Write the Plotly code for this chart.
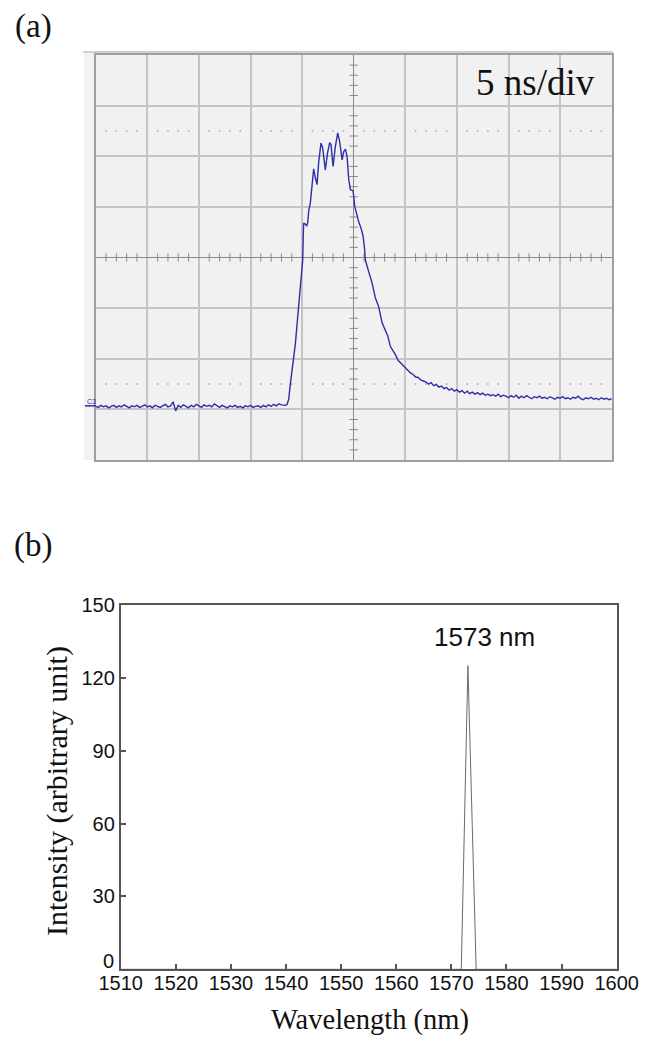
import numpy as np
import plotly.graph_objects as go

W, H = 649, 1043

# ---------------- (a) oscilloscope capture, 5 ns/div, 8 vertical divisions ----------------
# lead-in baseline, sampled every 0.25 ns from -25 ns (values in divisions)
lead_t0, lead_dt = -25.0, 0.25
lead_v = [
    -2.94, -2.96, -2.92, -2.95, -2.93, -2.97, -2.94, -2.92, -2.96, -2.93,
    -2.95, -2.91, -2.94, -2.97, -2.93, -2.95, -2.92, -2.96, -2.94, -2.91,
    -2.95, -2.93, -2.97, -2.92, -2.94, -2.96, -2.93, -2.90, -2.95, -2.93,
    -2.85, -3.03, -2.92, -2.96, -2.91, -2.94, -2.97, -2.92, -2.95, -2.90,
    -2.93, -2.96, -2.91, -2.94, -2.92, -2.95, -2.89, -2.93, -2.96, -2.92,
    -2.94, -2.97, -2.93, -2.95, -2.92, -2.96, -2.94, -2.97, -2.93, -2.95,
    -2.92, -2.96, -2.94, -2.93, -2.96, -2.92, -2.95, -2.91, -2.94, -2.90,
    -2.93, -2.89, -2.91, -2.92,
]

# pulse: rise, modulated top and fast part of the decay (ns, div)
pulse_t = [
    -6.60, -6.45, -6.30, -6.13, -5.97, -5.81, -5.65, -5.48, -5.32, -5.16,
    -5.00, -4.94, -4.88, -4.85, -4.70, -4.55, -4.45, -4.36, -4.20, -4.05,
    -3.88, -3.72, -3.55, -3.40, -3.17, -3.01, -2.75, -2.53, -2.33, -2.20,
    -2.00, -1.78, -1.55, -1.36, -1.12, -0.97, -0.80, -0.64, -0.48, -0.32,
    -0.06, 0.10, 0.33, 0.48, 0.71, 0.91, 1.03, 1.13, 1.45, 1.78,
    2.10, 2.42, 2.75, 3.07, 3.30, 3.56, 3.80, 4.04, 4.30, 4.53,
    4.85, 5.17,
]
pulse_v = [
    -2.92, -2.90, -2.80, -2.48, -2.25, -2.02, -1.70, -1.30, -0.95, -0.64,
    -0.20, -0.05, 0.50, 0.68, 0.66, 0.62, 0.70, 0.92, 1.08, 1.40,
    1.75, 1.58, 1.44, 1.87, 2.26, 2.17, 1.73, 2.07, 2.27, 2.23,
    1.80, 2.19, 2.46, 2.29, 1.93, 2.09, 2.14, 1.99, 1.54, 1.34,
    1.32, 1.01, 0.81, 0.71, 0.58, 0.42, 0.22, -0.05, -0.28, -0.50,
    -0.80, -0.97, -1.29, -1.43, -1.55, -1.76, -1.83, -1.92, -2.03, -2.08,
    -2.14, -2.22,
]

# slow tail, sampled every 0.25 ns from 5.5 ns
tail_t0, tail_dt = 5.5, 0.25
tail_v = [
    -2.28, -2.31, -2.36, -2.37, -2.42, -2.44, -2.46, -2.50, -2.47, -2.53,
    -2.51, -2.56, -2.54, -2.59, -2.57, -2.62, -2.59, -2.64, -2.61, -2.66,
    -2.63, -2.68, -2.64, -2.69, -2.66, -2.70, -2.67, -2.71, -2.68, -2.72,
    -2.70, -2.73, -2.71, -2.74, -2.70, -2.75, -2.72, -2.74, -2.77, -2.73,
    -2.76, -2.72, -2.78, -2.74, -2.77, -2.73, -2.76, -2.79, -2.75, -2.77,
    -2.74, -2.78, -2.76, -2.79, -2.75, -2.78, -2.80, -2.76, -2.78, -2.75,
    -2.79, -2.77, -2.80, -2.76, -2.78, -2.74, -2.79, -2.81, -2.77, -2.79,
    -2.76, -2.80, -2.78, -2.81, -2.77, -2.80, -2.78, -2.81, -2.79,
]

# ---------------- (b) optical spectrum ----------------
wavelength = [1510.0, 1571.8, 1573.0, 1574.5, 1600.0]
intensity = [0.0, 0.0, 125.0, 0.0, 0.0]
peak_label = "1573 nm"
x_ticks = list(range(1510, 1601, 10))
y_ticks = list(range(0, 151, 30))

lead_t = lead_t0 + lead_dt * np.arange(len(lead_v))
tail_t = tail_t0 + tail_dt * np.arange(len(tail_v))
scope_t = np.concatenate([lead_t, pulse_t, tail_t])
scope_v = np.concatenate([lead_v, pulse_v, tail_v])


def px(x):
    return x / W


def py(y):
    return 1 - y / H


SANS = "Liberation Sans, Arial, sans-serif"
SERIF = "Liberation Serif, Times New Roman, serif"
GRID = "#c4c4c4"
CENTER = "#8a8a8a"
TRACE = "#2e2ea8"

fig = go.Figure()

# minor division marks on the centre cross
minor_t = [t for t in range(-24, 25) if t % 5 != 0]
minor_v = [round(v * 0.2, 1) for v in range(-19, 20) if v % 5 != 0]
fig.add_trace(go.Scatter(
    x=minor_t, y=[0] * len(minor_t), mode="markers", xaxis="x", yaxis="y",
    marker=dict(symbol="line-ns", size=6, line=dict(width=1, color=CENTER)),
    hoverinfo="skip", showlegend=False))
fig.add_trace(go.Scatter(
    x=[0] * len(minor_v), y=minor_v, mode="markers", xaxis="x", yaxis="y",
    marker=dict(symbol="line-ew", size=6, line=dict(width=1, color=CENTER)),
    hoverinfo="skip", showlegend=False))
# dotted reference levels at +/-2.5 div
for lvl in (2.5, -2.5):
    fig.add_trace(go.Scatter(
        x=minor_t, y=[lvl] * len(minor_t), mode="markers", xaxis="x", yaxis="y",
        marker=dict(symbol="square", size=1.6, color="#a9a9a9"),
        hoverinfo="skip", showlegend=False))

fig.add_trace(go.Scatter(
    x=scope_t, y=scope_v, mode="lines", xaxis="x", yaxis="y",
    line=dict(color=TRACE, width=1.4), hoverinfo="skip", showlegend=False))

fig.add_trace(go.Scatter(
    x=wavelength, y=intensity, mode="lines", xaxis="x2", yaxis="y2",
    line=dict(color="#6a6a6a", width=1), hoverinfo="skip", showlegend=False))

shapes = [
    # scope bezel and screen
    dict(type="rect", xref="paper", yref="paper", x0=px(84), x1=px(612), y0=py(460), y1=py(52),
         fillcolor="#f2f2f2", line=dict(width=0), layer="below"),
    dict(type="line", xref="paper", yref="paper", x0=px(83), x1=px(613), y0=py(52), y1=py(52),
         line=dict(color="#cfcfd4", width=2), layer="below"),
    dict(type="rect", xref="x", yref="y", x0=-25, x1=25, y0=-4, y1=4,
         fillcolor="#f1f1f1", line=dict(width=0), layer="below"),
    # channel ground marker
    dict(type="line", xref="paper", yref="y", x0=px(85), x1=px(96), y0=-2.93, y1=-2.93,
         line=dict(color=TRACE, width=1.5)),
]


def label(text, x, y, size, family, **kw):
    return dict(text=text, x=x, y=y, xref=kw.pop("xref", "paper"), yref=kw.pop("yref", "paper"),
                xanchor=kw.pop("xanchor", "center"), yanchor="middle", showarrow=False,
                font=dict(family=family, size=size, color=kw.pop("color", "#111")), **kw)


annotations = [
    label("(a)", px(33), py(26), 33, SERIF),
    label("(b)", px(33), py(545), 33, SERIF),
    label("5 ns/div", px(535), py(83), 37, SERIF),
    label("C3", px(91), py(401), 7, SANS, color=TRACE),
    label(peak_label, 1576.1, 137, 26, SANS, xref="x2", yref="y2"),
    label("Intensity (arbitrary unit)", px(57), py(791), 30, SERIF, textangle=-90),
    label("Wavelength (nm)", px(370), py(1020), 28.5, SERIF),
    # zero of the intensity scale, lifted clear of the wavelength labels
    label(str(y_ticks[0]), px(115), py(961), 20, SANS, xanchor="right", borderpad=0),
]

axis_common = dict(fixedrange=True, automargin=False)
tick_font = dict(family=SANS, size=20, color="#111")

fig.update_layout(
    template="none",
    width=W, height=H, autosize=False,
    margin=dict(l=0, r=0, t=0, b=0, pad=0, autoexpand=False),
    paper_bgcolor="white", plot_bgcolor="rgba(0,0,0,0)",
    shapes=shapes, annotations=annotations, showlegend=False,
    xaxis=dict(domain=[px(95.7), px(611.7)], range=[-25, 25], dtick=5, tick0=0,
               showgrid=True, gridcolor=GRID, gridwidth=1.5,
               zeroline=True, zerolinecolor=CENTER, zerolinewidth=1.2,
               showline=True, mirror=True, linecolor="#a0a0a0", linewidth=1.5,
               showticklabels=False, ticks="", **axis_common),
    yaxis=dict(domain=[py(460), py(55)], range=[-4, 4], dtick=1, tick0=0,
               showgrid=True, gridcolor=GRID, gridwidth=1.5,
               zeroline=True, zerolinecolor=CENTER, zerolinewidth=1.2,
               showline=True, mirror=True, linecolor="#a0a0a0", linewidth=1.5,
               showticklabels=False, ticks="", **axis_common),
    xaxis2=dict(domain=[px(120.7), px(616.7)], range=[1510, 1600], anchor="y2",
                tickvals=x_ticks, ticks="inside", ticklen=5, tickwidth=1.5, tickcolor="#555",
                showline=True, mirror=True, linecolor="#555", linewidth=1.8,
                showgrid=False, zeroline=False, ticklabelstandoff=-5,
                tickfont=tick_font, **axis_common),
    yaxis2=dict(domain=[py(969.3), py(605)], range=[0, 150], anchor="x2",
                tickvals=y_ticks, ticktext=["" if v == 0 else str(v) for v in y_ticks],
                ticks="inside", ticklen=5, tickwidth=1.5, tickcolor="#555",
                showline=True, mirror=True, linecolor="#555", linewidth=1.8,
                showgrid=False, zeroline=False,
                tickfont=tick_font, **axis_common),
)

fig.write_html("out.html")
